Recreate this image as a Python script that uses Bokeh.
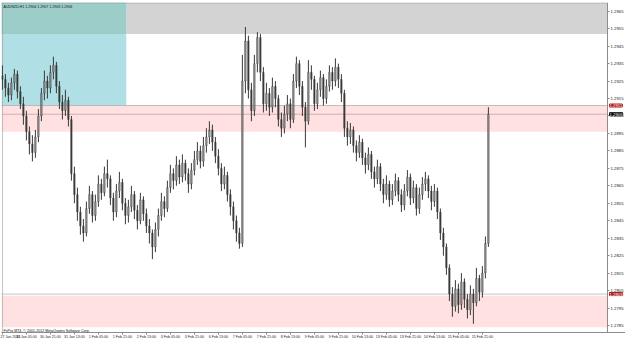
from bokeh.plotting import figure
from bokeh.models import (Range1d, LinearAxis, FixedTicker, PrintfTickFormatter,
                          Label, ColumnDataSource)
from bokeh.embed import file_html
from bokeh.resources import INLINE

# ---------------- data (AUDNZD, 2-hour bars) ----------------
opens = [
    1.2928, 1.2926, 1.2921, 1.2917, 1.2924, 1.2929, 1.2919, 1.2912, 1.2905, 1.2896,
    1.2889, 1.2884, 1.2893, 1.2905, 1.2918, 1.2925, 1.2921, 1.2930, 1.2934, 1.2922,
    1.2913, 1.2908, 1.2914, 1.2903, 1.2872, 1.2860, 1.2850, 1.2842, 1.2838, 1.2852,
    1.2860, 1.2848, 1.2856, 1.2866, 1.2861, 1.2872, 1.2869, 1.2858, 1.2850, 1.2862,
    1.2867, 1.2855, 1.2848, 1.2853, 1.2860, 1.2851, 1.2845, 1.2857, 1.2849, 1.2842,
    1.2838, 1.2830, 1.2840, 1.2848, 1.2856, 1.2852, 1.2864, 1.2872, 1.2868, 1.2877,
    1.2870, 1.2878, 1.2872, 1.2866, 1.2874, 1.2880, 1.2885, 1.2879, 1.2888, 1.2893,
    1.2897, 1.2890, 1.2882, 1.2875, 1.2866, 1.2871, 1.2860, 1.2853, 1.2845, 1.2838,
    1.2832, 1.2925, 1.2948, 1.2920, 1.2908, 1.2935, 1.2950, 1.2930, 1.2912, 1.2918,
    1.2910, 1.2922, 1.2915, 1.2903, 1.2898, 1.2906, 1.2912, 1.2903, 1.2925, 1.2935,
    1.2922, 1.2910, 1.2902, 1.2930, 1.2926, 1.2912, 1.2920, 1.2927, 1.2915, 1.2922,
    1.2930, 1.2925, 1.2933, 1.2926, 1.2918, 1.2898, 1.2893, 1.2897, 1.2888, 1.2884,
    1.2890, 1.2881, 1.2877, 1.2883, 1.2873, 1.2869, 1.2876, 1.2866, 1.2860, 1.2866,
    1.2857, 1.2862, 1.2868, 1.2860, 1.2854, 1.2862, 1.2870, 1.2858, 1.2864, 1.2852,
    1.2860, 1.2866, 1.2869, 1.2862, 1.2856, 1.2862, 1.2850, 1.2838, 1.2830, 1.2818,
    1.2803, 1.2796, 1.2806, 1.2797, 1.2810, 1.2800, 1.2794, 1.2803, 1.2798, 1.2812,
    1.2804, 1.2815, 1.2832,
]
highs = [
    1.2934, 1.2929, 1.2924, 1.2927, 1.2932, 1.2931, 1.2922, 1.2916, 1.2908, 1.2899,
    1.2894, 1.2897, 1.2909, 1.2921, 1.2931, 1.2928, 1.2934, 1.2939, 1.2936, 1.2925,
    1.2917, 1.2920, 1.2916, 1.2905, 1.2876, 1.2864, 1.2853, 1.2846, 1.2856, 1.2865,
    1.2862, 1.2860, 1.2871, 1.2869, 1.2876, 1.2880, 1.2871, 1.2861, 1.2866, 1.2873,
    1.2869, 1.2858, 1.2857, 1.2865, 1.2862, 1.2854, 1.2861, 1.2859, 1.2852, 1.2846,
    1.2840, 1.2844, 1.2852, 1.2861, 1.2859, 1.2868, 1.2877, 1.2875, 1.2882, 1.2880,
    1.2883, 1.2880, 1.2875, 1.2878, 1.2885, 1.2890, 1.2888, 1.2893, 1.2898, 1.2902,
    1.2900, 1.2893, 1.2886, 1.2878, 1.2876, 1.2873, 1.2863, 1.2856, 1.2848, 1.2841,
    1.2940, 1.2956, 1.2951, 1.2924, 1.2940, 1.2953, 1.2952, 1.2933, 1.2924, 1.2921,
    1.2927, 1.2925, 1.2917, 1.2907, 1.2911, 1.2917, 1.2915, 1.2929, 1.2939, 1.2937,
    1.2925, 1.2913, 1.2937, 1.2934, 1.2928, 1.2924, 1.2931, 1.2929, 1.2926, 1.2934,
    1.2933, 1.2938, 1.2935, 1.2929, 1.2920, 1.2902, 1.2901, 1.2899, 1.2891, 1.2894,
    1.2892, 1.2884, 1.2887, 1.2885, 1.2876, 1.2880, 1.2878, 1.2869, 1.2871, 1.2868,
    1.2866, 1.2872, 1.2870, 1.2863, 1.2866, 1.2874, 1.2872, 1.2868, 1.2866, 1.2864,
    1.2870, 1.2873, 1.2871, 1.2865, 1.2866, 1.2864, 1.2852, 1.2841, 1.2832, 1.2820,
    1.2807, 1.2811, 1.2809, 1.2815, 1.2812, 1.2803, 1.2808, 1.2806, 1.2818, 1.2814,
    1.2819, 1.2836, 1.2910,
]
lows = [
    1.2920, 1.2916, 1.2913, 1.2914, 1.2920, 1.2915, 1.2909, 1.2900, 1.2891, 1.2883,
    1.2879, 1.2881, 1.2890, 1.2902, 1.2914, 1.2915, 1.2918, 1.2926, 1.2918, 1.2909,
    1.2903, 1.2905, 1.2899, 1.2868, 1.2855, 1.2845, 1.2837, 1.2833, 1.2836, 1.2849,
    1.2844, 1.2845, 1.2853, 1.2857, 1.2859, 1.2864, 1.2854, 1.2845, 1.2847, 1.2858,
    1.2851, 1.2843, 1.2844, 1.2850, 1.2846, 1.2840, 1.2843, 1.2845, 1.2838, 1.2832,
    1.2823, 1.2827, 1.2836, 1.2845, 1.2847, 1.2850, 1.2861, 1.2863, 1.2865, 1.2866,
    1.2867, 1.2868, 1.2861, 1.2863, 1.2871, 1.2877, 1.2875, 1.2876, 1.2884, 1.2889,
    1.2885, 1.2878, 1.2871, 1.2862, 1.2863, 1.2856, 1.2848, 1.2840, 1.2833, 1.2829,
    1.2830, 1.2918, 1.2915, 1.2902, 1.2905, 1.2930, 1.2925, 1.2907, 1.2908, 1.2905,
    1.2907, 1.2910, 1.2899, 1.2893, 1.2895, 1.2902, 1.2898, 1.2901, 1.2921, 1.2917,
    1.2905, 1.2887, 1.2900, 1.2920, 1.2908, 1.2909, 1.2916, 1.2911, 1.2912, 1.2919,
    1.2920, 1.2922, 1.2921, 1.2913, 1.2893, 1.2888, 1.2889, 1.2884, 1.2879, 1.2881,
    1.2877, 1.2872, 1.2874, 1.2869, 1.2864, 1.2866, 1.2862, 1.2855, 1.2857, 1.2853,
    1.2854, 1.2859, 1.2856, 1.2850, 1.2851, 1.2859, 1.2854, 1.2855, 1.2848, 1.2849,
    1.2857, 1.2862, 1.2858, 1.2851, 1.2853, 1.2846, 1.2834, 1.2825, 1.2814, 1.2799,
    1.2790, 1.2793, 1.2792, 1.2794, 1.2795, 1.2789, 1.2791, 1.2786, 1.2796, 1.2799,
    1.2801, 1.2812, 1.2830,
]
closes = [
    1.2926, 1.2921, 1.2917, 1.2924, 1.2929, 1.2919, 1.2912, 1.2905, 1.2896, 1.2889,
    1.2884, 1.2893, 1.2905, 1.2918, 1.2925, 1.2921, 1.2930, 1.2934, 1.2922, 1.2913,
    1.2908, 1.2914, 1.2903, 1.2872, 1.2860, 1.2850, 1.2842, 1.2838, 1.2852, 1.2860,
    1.2848, 1.2856, 1.2866, 1.2861, 1.2872, 1.2869, 1.2858, 1.2850, 1.2862, 1.2867,
    1.2855, 1.2848, 1.2853, 1.2860, 1.2851, 1.2845, 1.2857, 1.2849, 1.2842, 1.2838,
    1.2830, 1.2840, 1.2848, 1.2856, 1.2852, 1.2864, 1.2872, 1.2868, 1.2877, 1.2870,
    1.2878, 1.2872, 1.2866, 1.2874, 1.2880, 1.2885, 1.2879, 1.2888, 1.2893, 1.2897,
    1.2890, 1.2882, 1.2875, 1.2866, 1.2871, 1.2860, 1.2853, 1.2845, 1.2838, 1.2832,
    1.2925, 1.2948, 1.2920, 1.2908, 1.2935, 1.2950, 1.2930, 1.2912, 1.2918, 1.2910,
    1.2922, 1.2915, 1.2903, 1.2898, 1.2906, 1.2912, 1.2903, 1.2925, 1.2935, 1.2922,
    1.2910, 1.2902, 1.2930, 1.2926, 1.2912, 1.2920, 1.2927, 1.2915, 1.2922, 1.2930,
    1.2925, 1.2933, 1.2926, 1.2918, 1.2898, 1.2893, 1.2897, 1.2888, 1.2884, 1.2890,
    1.2881, 1.2877, 1.2883, 1.2873, 1.2869, 1.2876, 1.2866, 1.2860, 1.2866, 1.2857,
    1.2862, 1.2868, 1.2860, 1.2854, 1.2862, 1.2870, 1.2858, 1.2864, 1.2852, 1.2860,
    1.2866, 1.2869, 1.2862, 1.2856, 1.2862, 1.2850, 1.2838, 1.2830, 1.2818, 1.2803,
    1.2796, 1.2806, 1.2797, 1.2810, 1.2800, 1.2794, 1.2803, 1.2798, 1.2812, 1.2804,
    1.2815, 1.2832, 1.2906,
]

time_labels = ["27 Jan 2012", "30 Jan 05:00", "30 Jan 21:00", "31 Jan 13:00", "1 Feb 05:00",
               "1 Feb 21:00", "2 Feb 13:00", "3 Feb 05:00", "3 Feb 21:00", "6 Feb 13:00",
               "7 Feb 05:00", "7 Feb 21:00", "8 Feb 13:00", "9 Feb 05:00", "9 Feb 21:00",
               "10 Feb 13:00", "13 Feb 05:00", "13 Feb 21:00", "14 Feb 13:00", "15 Feb 05:00",
               "15 Feb 21:00"]
label_step = 8  # bars between time labels

price_ticks = [1.2785, 1.2795, 1.2805, 1.2815, 1.2825, 1.2835, 1.2845, 1.2855, 1.2865, 1.2875,
               1.2885, 1.2895, 1.2905, 1.2915, 1.2925, 1.2935, 1.2945, 1.2955, 1.2965]

title_text = "AUDNZD,H1  1.2904 1.2907 1.2903 1.2906"
copyright_text = "FxPro MT4, \u00a9 2001-2012 MetaQuotes Software Corp."

# zones
gray_zone = (1.2952, 1.2970)
teal_zone = (1.2911, 1.2970)
teal_zone_end_bar = 41.3
pink_top_zone = (1.2896, 1.2911)
pink_bottom_zone = (1.2784, 1.2802)
level_lines = [1.2911, 1.2803]
bid_price = 1.2906

FONT = "Liberation Sans"
FS = "4.3px"
FS_SMALL = "3.6px"

# ---------------- figure ----------------
n = len(closes)
idx = list(range(n))
x_start, x_chart_end, x_end = -0.3, 201.7, 207.7   # chart area ends where the price scale starts
y_start, y_end = 1.2781, 1.2970

p = figure(width=625, height=341, output_backend="svg", toolbar_location=None,
           x_range=Range1d(x_start, x_end), y_range=Range1d(y_start, y_end),
           x_axis_location=None, y_axis_location=None,
           min_border_left=1, min_border_top=2, min_border_right=0, min_border_bottom=6)
p.grid.visible = False
p.background_fill_color = "white"
p.border_fill_color = "white"
p.outline_line_color = None

# zones
p.quad(left=[x_start], right=[teal_zone_end_bar], bottom=[teal_zone[0]], top=[teal_zone[1]],
       fill_color="#b0e0e6", line_color=None)
p.quad(left=[teal_zone_end_bar], right=[x_chart_end], bottom=[gray_zone[0]], top=[gray_zone[1]],
       fill_color="#d3d3d3", line_color=None)
p.quad(left=[x_start], right=[teal_zone_end_bar], bottom=[gray_zone[0]], top=[gray_zone[1]],
       fill_color="#9ccdc9", line_color=None)
p.quad(left=[x_start, x_start], right=[x_chart_end, x_chart_end],
       bottom=[pink_top_zone[0], pink_bottom_zone[0]], top=[pink_top_zone[1], pink_bottom_zone[1]],
       fill_color="#ffe1e1", line_color=None)

# chart border (left and top)
p.segment(x0=[x_start + 0.35, x_start], y0=[y_start, y_end - 0.00003],
          x1=[x_start + 0.35, x_chart_end], y1=[y_end, y_end - 0.00003],
          line_color="#8c8c8c", line_width=1, line_dash="1 1")

# level lines
p.segment(x0=[x_start] * 2, y0=level_lines, x1=[x_chart_end] * 2, y1=level_lines,
          line_color="#8a8a8a", line_dash="1 1", line_width=1)
p.segment(x0=[x_start], y0=[bid_price], x1=[x_chart_end], y1=[bid_price],
          line_color="#d0b0b0", line_width=1)

# candles
src = ColumnDataSource(dict(x=idx, o=opens, h=highs, l=lows, c=closes))
p.segment(x0="x", y0="l", x1="x", y1="h", source=src, line_color="#3a3a3a", line_width=1)
up = [i for i in idx if closes[i] >= opens[i]]
dn = [i for i in idx if closes[i] < opens[i]]
p.vbar(x=up, bottom=[opens[i] for i in up], top=[closes[i] for i in up], width=0.35,
       fill_color="white", line_color="#3a3a3a", line_width=0.8)
p.vbar(x=dn, bottom=[closes[i] for i in dn], top=[opens[i] for i in dn], width=0.35,
       fill_color="#3a3a3a", line_color="#3a3a3a", line_width=0.8)

# time axis
tick_pos = [i * label_step for i in range(len(time_labels))]
xa = LinearAxis(ticker=FixedTicker(ticks=tick_pos),
                major_label_overrides={t: s for t, s in zip(tick_pos, time_labels)},
                major_label_text_align="left", major_label_text_font_size=FS_SMALL,
                major_label_text_font=FONT, major_label_text_color="#222222",
                major_tick_out=2, major_tick_in=0, minor_tick_out=0, minor_tick_in=0,
                major_label_standoff=0, axis_line_color="#8c8c8c", major_tick_line_color="#8c8c8c")
p.add_layout(xa, "below")

# price scale drawn at the right edge of the chart area
ya = LinearAxis(ticker=FixedTicker(ticks=price_ticks), fixed_location=x_chart_end,
                formatter=PrintfTickFormatter(format="%.4f"),
                major_label_text_font_size=FS, major_label_text_font=FONT,
                major_label_text_color="#222222",
                major_tick_out=2, major_tick_in=0, minor_tick_out=0, minor_tick_in=0,
                major_label_standoff=1, axis_line_color="#8c8c8c", major_tick_line_color="#8c8c8c")
p.add_layout(ya, "right")

# price tags on the scale
for lv, bg in [(level_lines[0], "#b01818"), (level_lines[1], "#b01818"), (bid_price, "#000000")]:
    p.add_layout(Label(x=x_chart_end, x_offset=2, y=lv, text="%.4f" % lv, text_font_size=FS,
                       text_font=FONT, text_color="white", text_baseline="middle",
                       background_fill_color=bg, border_line_color=bg))

# texts
p.add_layout(Label(x=x_start + 0.7, y=y_end, text=title_text, text_font_size=FS_SMALL,
                   text_font=FONT, text_color="#111111", text_baseline="top", y_offset=-2))
p.add_layout(Label(x=x_start + 0.7, y=y_start, text=copyright_text, text_font_size=FS_SMALL,
                   text_font=FONT, text_color="#111111", text_baseline="bottom", y_offset=0))

open("out.html", "w").write(file_html(p, INLINE))
